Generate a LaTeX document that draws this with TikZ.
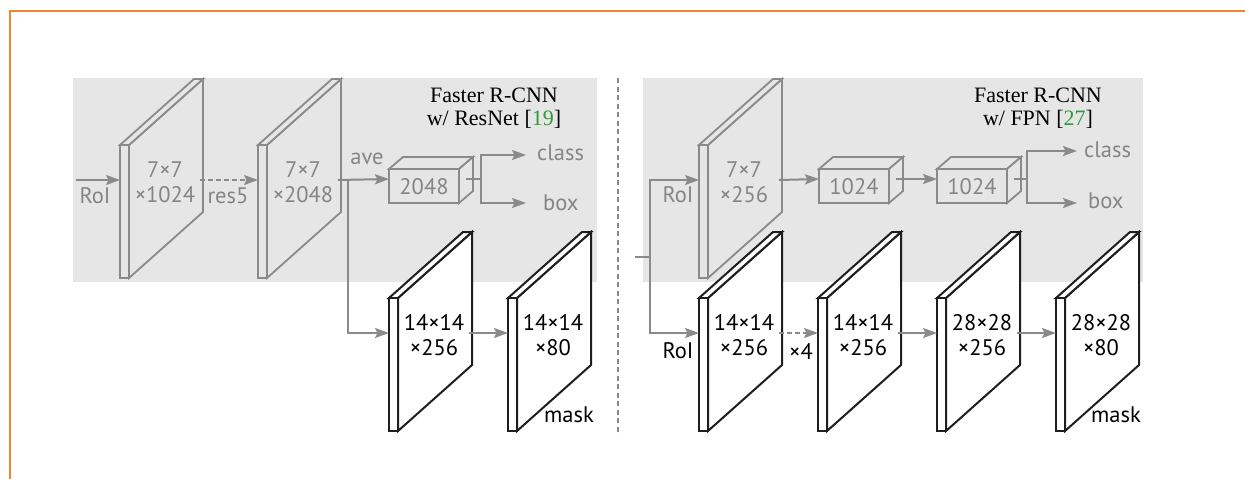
\documentclass[tikz,border=0pt]{standalone}
\usepackage{fontspec}
\setmainfont{Liberation Serif}
\newfontfamily\labelfont{PT Sans}
\usetikzlibrary{arrows.meta}

\definecolor{panel}{HTML}{E6E6E6}
\definecolor{gline}{HTML}{8A8A8A}
\definecolor{gtext}{HTML}{858585}
\definecolor{dline}{HTML}{1E1E1E}
\definecolor{frame}{HTML}{F28234}
\definecolor{cite}{HTML}{2E9B3A}

\tikzset{
  gface/.style={draw=gline, fill=panel, line width=1.8pt, line join=miter},
  wface/.style={draw=dline, fill=white, line width=2pt, line join=miter},
  gtxt/.style={text=gtext, font=\labelfont\fontsize{22.5}{25}\selectfont, align=center, inner sep=0pt},
  wtxt/.style={text=black, font=\labelfont\fontsize{22.5}{25}\selectfont, align=center, inner sep=0pt},
  title/.style={text=black, font=\fontsize{22}{23}\selectfont, align=center, inner sep=0pt},
  arr/.style={draw=gline, line width=2pt, -{Stealth[length=14pt,width=10pt,inset=2.5pt]}},
  darr/.style={arr, dash pattern=on 5pt off 3pt},
  wire/.style={draw=gline, line width=2pt},
}

% thin feature-map slab: plate at (x,y), depth face behind it
% #1 name, #2 x, #3 y, #4 g|w (grey or white), #5 label
\newcommand{\fmapslab}[5]{%
  \begin{scope}[shift={(#2,#3)}]
    \filldraw[#4face] (9,0) -- (83,-66) -- (83,67) -- (9,133) -- cycle;
    \filldraw[#4face] (0,0) -- (74,-66) -- (83,-66) -- (9,0) -- cycle;
    \filldraw[#4face] (0,0) rectangle (9,133);
    \node[#4txt] (#1) at (45,37) {#5};
    \coordinate (#1-in) at (0,35);
    \coordinate (#1-out) at (80,35);
  \end{scope}}

% fully connected block: front face at (x,y)
% #1 name, #2 x, #3 y, #4 label
\newcommand{\fcblock}[4]{%
  \begin{scope}[shift={(#2,#3)}]
    \filldraw[gface] (0,0) -- (14,-12) -- (84,-12) -- (70,0) -- cycle;
    \filldraw[gface] (70,0) -- (84,-12) -- (84,22) -- (70,34) -- cycle;
    \filldraw[gface] (0,0) rectangle (70,34);
    \node[gtxt] (#1) at (35,18) {#4};
    \coordinate (#1-in) at (0,10);
    \coordinate (#1-out) at (77,10);
  \end{scope}}

\begin{document}
\begin{tikzpicture}[x=1pt, y=-1pt]
\useasboundingbox (0,0) rectangle (1245,479);

% frame
\draw[frame, line width=2.6pt, line join=miter] (10,480) -- (10,11) -- (1246,11);

% shaded head panels
\fill[panel] (73,78) rectangle (597,282);
\fill[panel] (643,78) rectangle (1143,282);

% separator
\draw[gline, line width=1.4pt, dash pattern=on 5pt off 3.5pt] (618,78) -- (618,435);

% ---------- ResNet head ----------
\node[title] (ltitle) at (494,108) {Faster R-CNN\\w/ ResNet [\textcolor{cite}{19}]};

\fmapslab{l1}{120}{145}{g}{7×7\\×1024}
\fmapslab{l2}{258}{145}{g}{7×7\\×2048}
\fcblock{lfc}{389}{169}{2048}
\fmapslab{lm1}{389}{298}{w}{14×14\\×256}
\fmapslab{lm2}{508}{298}{w}{14×14\\×80}

\coordinate (lroi) at (76,180);
\draw[arr] (lroi) -- (l1-in);
\node[gtxt] (lroilbl) at (95,196) {RoI};
\draw[darr] (l1-out) -- (l2-in);
\node[gtxt] (res5) at (228,196) {res5};
\draw[arr] (l2-out) -- (lfc-in);
\node[gtxt] (ave) at (367,159) {ave};

\coordinate (lturn) at (348,180);
\draw[arr] (lturn) |- (lm1-in);
\draw[arr] (lm1-out) -- (lm2-in);
\node[wtxt] (lmask) at (569,415) {mask};

\coordinate (lsplit) at (481,179);
\coordinate (lcls) at (526,155);
\coordinate (lbox) at (526,203);
\draw[wire] (lfc-out) -- (lsplit);
\draw[arr] (lsplit) |- (lcls);
\draw[arr] (lsplit) |- (lbox);
\node[gtxt, anchor=west] (lclass) at (537,153) {class};
\node[gtxt, anchor=west] (lboxl) at (543,203) {box};

% ---------- FPN head ----------
\node[title] (rtitle) at (1038,108) {Faster R-CNN\\w/ FPN [\textcolor{cite}{27}]};

\fmapslab{r1}{699}{145}{g}{7×7\\×256}
\fcblock{rfc1}{819}{169}{1024}
\fcblock{rfc2}{937}{169}{1024}
\fmapslab{ra}{699}{298}{w}{14×14\\×256}
\fmapslab{rb}{818}{298}{w}{14×14\\×256}
\fmapslab{rc}{937}{298}{w}{28×28\\×256}
\fmapslab{rd}{1056}{298}{w}{28×28\\×80}

\coordinate (rin) at (635,257);
\coordinate (rsplit) at (650,257);
\draw[wire] (rin) -- (rsplit);
\draw[arr] (rsplit) |- (r1-in);
\draw[arr] (rsplit) |- (ra-in);
\node[gtxt] (rroi) at (678,195) {RoI};
\node[wtxt] (rroib) at (678,351) {RoI};

\draw[arr] (r1-out) -- (rfc1-in);
\draw[arr] (rfc1-out) -- (rfc2-in);

\coordinate (rsplit2) at (1027,179);
\coordinate (rcls) at (1077,151);
\coordinate (rbox) at (1077,203);
\draw[wire] (rfc2-out) -- (rsplit2);
\draw[arr] (rsplit2) |- (rcls);
\draw[arr] (rsplit2) |- (rbox);
\node[gtxt, anchor=west] (rclass) at (1084,150) {class};
\node[gtxt, anchor=west] (rboxl) at (1088,201) {box};

\draw[darr] (ra-out) -- (rb-in);
\node[wtxt] (times4) at (801,351) {×4};
\draw[arr] (rb-out) -- (rc-in);
\draw[arr] (rc-out) -- (rd-in);
\node[wtxt] (rmask) at (1116,415) {mask};
\end{tikzpicture}
\end{document}
